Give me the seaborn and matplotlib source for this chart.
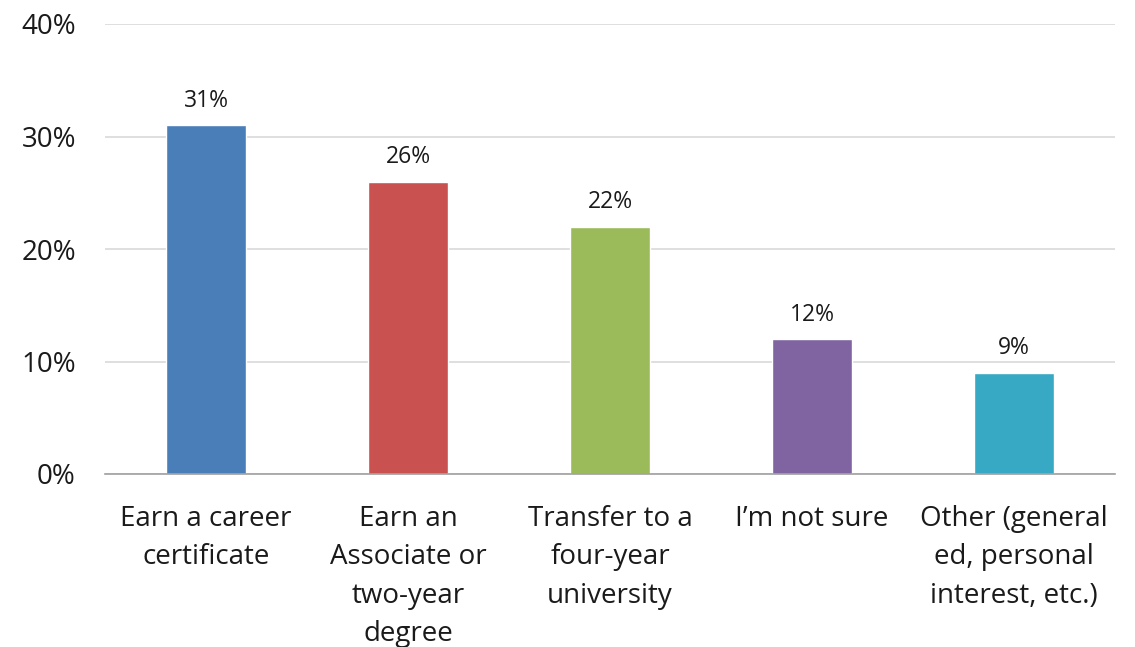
import matplotlib
matplotlib.use("Agg")
import matplotlib.pyplot as plt
import seaborn as sns
import pandas as pd
from matplotlib.ticker import FuncFormatter

categories = [
    "Earn a career\ncertificate",
    "Earn an\nAssociate or\ntwo-year\ndegree",
    "Transfer to a\nfour-year\nuniversity",
    "I\u2019m not sure",
    "Other (general\ned, personal\ninterest, etc.)",
]
shares = [31, 26, 22, 12, 9]
bar_colors = ["#4a7eb9", "#c9514f", "#9bbb5a", "#8064a2", "#38a9c4"]

df = pd.DataFrame({"goal": categories, "share": shares})

sns.set_theme(style="white")
plt.rcParams["font.family"] = ["Open Sans", "DejaVu Sans"]

fig = plt.figure(figsize=(11.35, 6.47), dpi=100)
ax = fig.add_axes([105 / 1135, 1 - 474 / 647, 1010 / 1135, 450 / 647])

sns.barplot(data=df, x="goal", y="share", hue="goal", palette=bar_colors,
            width=0.40, legend=False, ax=ax, saturation=1)

for patch, v in zip(ax.patches, shares):
    ax.text(patch.get_x() + patch.get_width() / 2, v + 1.1, f"{v}%",
            ha="center", va="bottom", fontsize=16.5, color="#1a1a1a")

ax.set_ylim(0, 40)
ax.set_xlim(-0.5, 4.5)
ax.set_yticks([0, 10, 20, 30, 40])
ax.yaxis.set_major_formatter(FuncFormatter(lambda v, _: f"{v:.0f}%"))
ax.yaxis.grid(True, color="#d9d9d9", linewidth=1.2)
ax.set_axisbelow(True)
ax.set_xlabel("")
ax.set_ylabel("")
for s in ["top", "right", "left"]:
    ax.spines[s].set_visible(False)
ax.spines["bottom"].set_color("#a0a0a0")
ax.spines["bottom"].set_linewidth(1.2)
ax.tick_params(axis="y", length=0, pad=21, labelsize=20, labelcolor="#1a1a1a")
ax.tick_params(axis="x", length=0, pad=22, labelsize=20, labelcolor="#1a1a1a")
for lbl in ax.get_xticklabels():
    lbl.set_linespacing(1.5)

fig.savefig("out.png", dpi=100, facecolor="white")
